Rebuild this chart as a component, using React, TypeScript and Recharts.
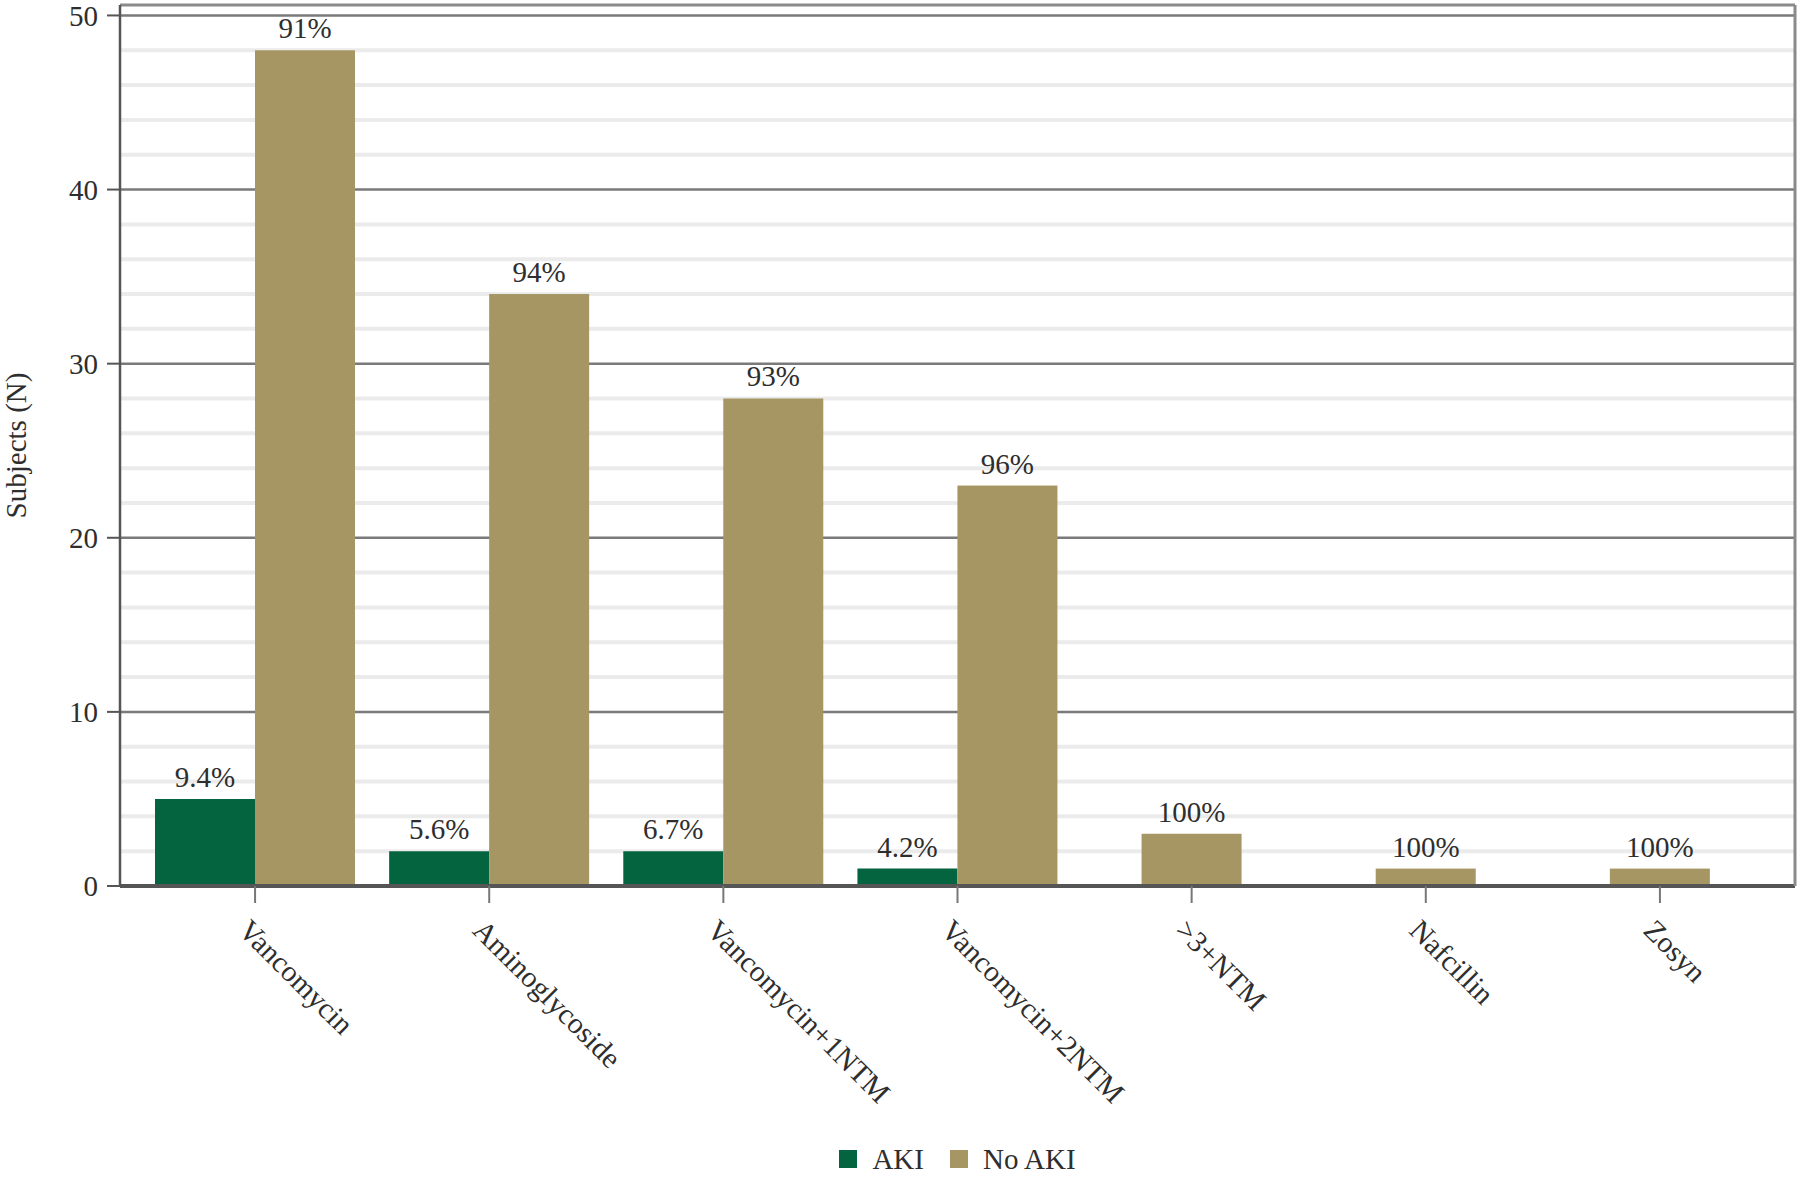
import React from 'react';
import { BarChart, Bar, XAxis, YAxis, CartesianGrid, Legend, LabelList } from 'recharts';

const categories = ['Vancomycin', 'Aminoglycoside', 'Vancomycin+1NTM', 'Vancomycin+2NTM', '>3+NTM', 'Nafcillin', 'Zosyn'];
const akiValues: (number | null)[] = [5, 2, 2, 1, null, null, null];
const noAkiValues: number[] = [48, 34, 28, 23, 3, 1, 1];
const akiLabels: (string | null)[] = ['9.4%', '5.6%', '6.7%', '4.2%', null, null, null];
const noAkiLabels: string[] = ['91%', '94%', '93%', '96%', '100%', '100%', '100%'];
const majorTicks = [0, 10, 20, 30, 40, 50];
const minorTicks = [2, 4, 6, 8, 12, 14, 16, 18, 22, 24, 26, 28, 32, 34, 36, 38, 42, 44, 46, 48];
const yMax = 50.6;
const seriesNames = ['AKI', 'No AKI'];
const seriesColors = ['#03643f', '#a69664'];
const yTitle = 'Subjects (N)';

const data = categories.map((name, i) => ({
  name,
  aki: akiValues[i],
  noAki: noAkiValues[i],
  akiPct: akiLabels[i],
  noAkiPct: noAkiLabels[i],
}));

const FONT = '"Liberation Serif", "Times New Roman", serif';
const TEXT = '#2e2e2e';

const XTick = (props: any) => {
  const { x, y, payload } = props;
  return (
    <g transform={`translate(${x},${y})`}>
      <text
        transform="translate(-18, 29) rotate(45)"
        textAnchor="start"
        fontFamily={FONT}
        fontSize={29.5}
        fill={TEXT}
      >
        {payload.value}
      </text>
    </g>
  );
};

const NoAkiShape = (props: any) => {
  const { x, y, width, height, payload, fill } = props;
  const shift = payload && payload.aki == null ? -width / 2 : 0;
  if (!height || height <= 0) return null;
  return <rect x={x + shift} y={y} width={width} height={height} fill={fill} />;
};

const makeLabel = (pctKey: 'akiPct' | 'noAkiPct', centerSolo: boolean) => (props: any) => {
  const { x, y, width, index } = props;
  const row = data[index];
  const txt = row ? row[pctKey] : null;
  if (txt == null) return null;
  const shift = centerSolo && row.aki == null ? -width / 2 : 0;
  return (
    <text
      x={x + shift + width / 2}
      y={y - 12}
      textAnchor="middle"
      fontFamily={FONT}
      fontSize={29}
      fill={TEXT}
    >
      {txt}
    </text>
  );
};

const LegendContent = () => (
  <div
    style={{
      display: 'flex',
      justifyContent: 'center',
      alignItems: 'center',
      height: 30,
      fontFamily: FONT,
      fontSize: 29,
      color: TEXT,
    }}
  >
    {seriesNames.map((n, i) => (
      <div key={n} style={{ display: 'flex', alignItems: 'center', marginLeft: i === 0 ? 0 : 26 }}>
        <div style={{ width: 18, height: 18, background: seriesColors[i], marginRight: 15 }} />
        <span>{n}</span>
      </div>
    ))}
  </div>
);

export default function App() {
  return (
    <div style={{ position: 'absolute', left: 0, top: 0, width: 1800, height: 1179, background: '#fff' }}>
      <BarChart
        width={1800}
        height={1179}
        data={data}
        margin={{ top: 4, right: 4, left: 0, bottom: 5 }}
        barSize={100}
        barGap={0}
      >
        <CartesianGrid vertical={false} horizontalValues={minorTicks} stroke="#ebebeb" strokeWidth={4} />
        <CartesianGrid vertical={false} horizontalValues={majorTicks} stroke="#7a7a7a" strokeWidth={2.5} />
        <XAxis
          dataKey="name"
          type="category"
          height={258}
          padding={{ left: 18, right: 18 }}
          tick={<XTick />}
          tickSize={17}
          tickMargin={0}
          interval={0}
          axisLine={{ stroke: '#555', strokeWidth: 4 }}
          tickLine={{ stroke: '#777', strokeWidth: 2 }}
        />
        <XAxis
          xAxisId="top"
          dataKey="name"
          orientation="top"
          height={1}
          tick={false}
          tickLine={false}
          axisLine={{ stroke: '#8a8a8a', strokeWidth: 3 }}
        />
        <YAxis
          yAxisId="minor"
          orientation="left"
          width={1}
          domain={[0, yMax]}
          ticks={minorTicks}
          tick={false}
          tickSize={7}
          axisLine={false}
          tickLine={{ stroke: '#666', strokeWidth: 2 }}
        />
        <YAxis
          orientation="left"
          width={119}
          domain={[0, yMax]}
          ticks={majorTicks}
          interval={0}
          tickSize={13}
          tickMargin={9}
          tick={{ fontFamily: FONT, fontSize: 29, fill: TEXT }}
          axisLine={{ stroke: '#555', strokeWidth: 2.5 }}
          tickLine={{ stroke: '#555', strokeWidth: 2 }}
          label={{
            content: (p: any) => {
              const vb = p.viewBox || {};
              const cy = (vb.y || 0) + (vb.height || 0) / 2;
              return (
                <text
                  x={16}
                  y={cy}
                  transform={`rotate(-90, 16, ${cy})`}
                  textAnchor="middle"
                  dominantBaseline="central"
                  fontFamily={FONT}
                  fontSize={29}
                  fill={TEXT}
                >
                  {yTitle}
                </text>
              );
            },
          }}
        />
        <YAxis
          yAxisId="right"
          orientation="right"
          width={1}
          domain={[0, yMax]}
          tick={false}
          tickLine={false}
          axisLine={{ stroke: '#8a8a8a', strokeWidth: 3 }}
        />
        <Legend verticalAlign="bottom" align="center" height={30} wrapperStyle={{ left: 120, width: 1675 }} content={<LegendContent />} />
        <Bar dataKey="aki" name={seriesNames[0]} fill={seriesColors[0]} isAnimationActive={false}>
          <LabelList dataKey="akiPct" content={makeLabel('akiPct', false)} />
        </Bar>
        <Bar dataKey="noAki" name={seriesNames[1]} fill={seriesColors[1]} shape={<NoAkiShape />} isAnimationActive={false}>
          <LabelList dataKey="noAkiPct" content={makeLabel('noAkiPct', true)} />
        </Bar>
      </BarChart>
    </div>
  );
}
